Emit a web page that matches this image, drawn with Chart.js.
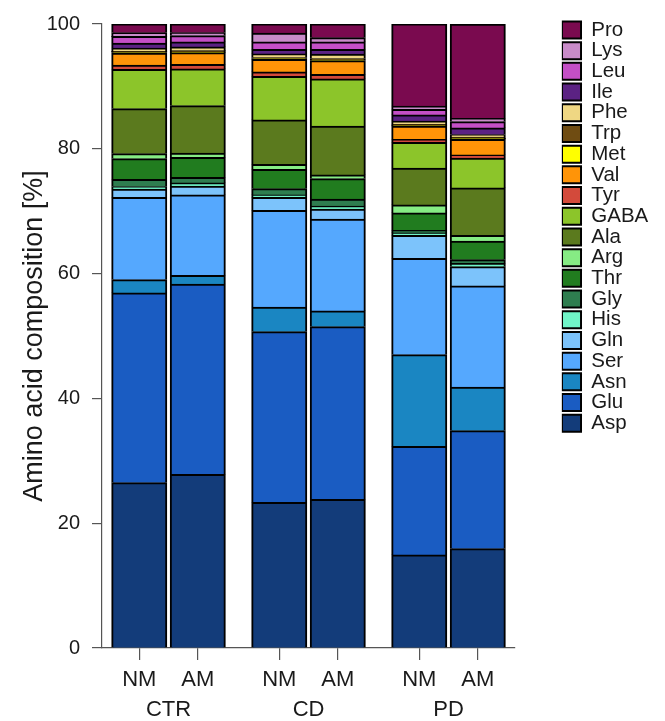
<!DOCTYPE html>
<html>
<head>
<meta charset="utf-8">
<title>Amino acid composition</title>
<script src="https://cdn.jsdelivr.net/npm/chart.js@4.4.1/dist/chart.umd.min.js"></script>
<style>
	html, body { margin: 0; padding: 0; background: #fff; }
	.chart-box { width: 665px; height: 721px; }
</style>
</head>
<body>
<div class="chart-box"><canvas id="amino-chart"></canvas></div>
<script>

/*****************************  Data  *********************************/
var barLabels   = ["NM", "AM", "NM", "AM", "NM", "AM"];
var groupLabels = ["CTR", "CD", "PD"];
var yTicks      = [0, 20, 40, 60, 80, 100];

// % of total, bars: CTR NM, CTR AM, CD NM, CD AM, PD NM, PD AM
var asp  = [26.5, 27.8, 23.3, 23.8, 14.9, 15.9];
var glu  = [30.4, 30.5, 27.4, 27.7, 17.4, 18.9];
var asn  = [2.1, 1.4, 3.9, 2.5, 14.7, 7.0];
var ser  = [13.2, 12.9, 15.5, 14.7, 15.4, 16.2];
var gln  = [1.3, 1.4, 2.1, 1.6, 3.7, 3.1];
var his  = [0.4, 0.5, 0.4, 0.5, 0.4, 0.5];
var gly  = [1.2, 0.9, 1.0, 1.1, 0.4, 0.6];
var thr  = [3.3, 3.2, 3.1, 3.3, 2.8, 3.0];
var arg  = [0.8, 0.7, 0.8, 0.6, 1.3, 0.9];
var ala  = [7.2, 7.6, 7.1, 7.8, 5.9, 7.6];
var gaba = [6.3, 5.9, 7.0, 7.6, 4.1, 4.8];
var tyr  = [0.7, 0.7, 0.7, 0.7, 0.5, 0.5];
var val  = [1.9, 1.9, 2.0, 2.2, 2.1, 2.5];
var met  = [0.1, 0.1, 0.15, 0.15, 0.1, 0.15];
var trp  = [0.2, 0.2, 0.15, 0.2, 0.2, 0.2];
var phe  = [0.5, 0.6, 0.6, 0.7, 0.5, 0.4];
var ile  = [0.8, 0.8, 0.7, 0.75, 1.0, 1.1];
var leu  = [1.1, 1.0, 1.2, 1.2, 0.9, 1.0];
var lys  = [0.6, 0.5, 1.4, 0.7, 0.5, 0.5];
var pro  = [1.4, 1.4, 1.5, 2.2, 13.2, 15.1];

// stacked bottom -> top
var aminoAcids = ["Asp", "Glu", "Asn", "Ser", "Gln", "His", "Gly", "Thr", "Arg", "Ala",
                  "GABA", "Tyr", "Val", "Met", "Trp", "Phe", "Ile", "Leu", "Lys", "Pro"];
var series = [asp, glu, asn, ser, gln, his, gly, thr, arg, ala,
              gaba, tyr, val, met, trp, phe, ile, leu, lys, pro];
var colors = ["#133c7a", "#1a5cc2", "#1a86c2", "#55a8fe", "#7cc3fb", "#70f5c8", "#2e7d4f", "#217c1f", "#86ec84", "#5b7a1e",
              "#8cc52a", "#d34a3b", "#ff9408", "#ffff00", "#6f4c12", "#efd783", "#5b2283", "#c44fc6", "#c98bc9", "#7a0a4f"];


/***************************  Bar positions  ******************************/
// two bars per group, a wider gap between groups
var groupStep = 2.393;
var xPos = barLabels.map(function(l, i) { return Math.floor(i / 2) * groupStep + i % 2; });
var groupPos = groupLabels.map(function(g, i) { return i * groupStep + 0.5; });
var xMin = -0.637;
var xMax = xPos[xPos.length - 1] + 0.637;


/******************************  Chart.js  *********************************/
Chart.defaults.font.family = "'Liberation Sans', Arial, sans-serif";
Chart.defaults.color = "#1a1a1a";

var datasets = series.map(function(values, k) {
	return {
		label: aminoAcids[k],
		data: values.map(function(v, i) { return { x: xPos[i], y: v }; }),
		backgroundColor: colors[k],
		borderColor: "#000",
		borderWidth: 2,
		inflateAmount: 0.5,
		barPercentage: 0.94,
		categoryPercentage: 1
	};
});

var axisGrey = "#555";

new Chart(document.getElementById("amino-chart"), {
	type: "bar",
	data: { datasets: datasets },
	options: {
		responsive: true,
		maintainAspectRatio: false,
		animation: false,
		events: [],
		layout: { padding: { top: 17, right: 6.75, bottom: 0, left: 0 } },
		plugins: {
			tooltip: { enabled: false },
			legend: {
				position: "right",
				align: "start",
				reverse: true,
				// empty title, only nudges the rows down a little
				title: { display: true, text: "", padding: 0, font: { size: 2.5, lineHeight: 1 } },
				labels: {
					boxWidth: 19,
					boxHeight: 17,
					padding: 0.2,
					color: "#1a1a1a",
					font: { size: 20.5 }
				}
			}
		},
		scales: {
			x: {
				type: "linear",
				position: "bottom",
				weight: 0,
				min: xMin,
				max: xMax,
				stacked: true,
				offset: false,
				afterBuildTicks: function(s) { s.ticks = xPos.map(function(v) { return { value: v }; }); },
				afterFit: function(s) { s.height = 44; },
				grid: { display: true, offset: false, drawOnChartArea: false, drawTicks: true, tickLength: 12, color: axisGrey, lineWidth: 1.2 },
				border: { display: true, color: axisGrey, width: 1.2 },
				ticks: {
					autoSkip: false,
					maxRotation: 0,
					padding: 7.4,
					font: { size: 22, lineHeight: 1.1 },
					callback: function(v, i) { return barLabels[i]; }
				}
			},
			x2: {
				type: "linear",
				position: "bottom",
				weight: 1,
				min: xMin,
				max: xMax,
				offset: false,
				afterBuildTicks: function(s) { s.ticks = groupPos.map(function(v) { return { value: v }; }); },
				afterFit: function(s) { s.height = 29; },
				grid: { display: false, drawTicks: false, offset: false },
				border: { display: false },
				ticks: {
					autoSkip: false,
					maxRotation: 0,
					padding: 5.4,
					font: { size: 22, lineHeight: 1.1 },
					callback: function(v, i) { return groupLabels[i]; }
				}
			},
			y: {
				stacked: true,
				min: 0,
				max: 100,
				afterBuildTicks: function(s) { s.ticks = yTicks.map(function(v) { return { value: v }; }); },
				afterFit: function(s) { s.width = 102; },
				grid: { display: true, drawOnChartArea: false, drawTicks: true, tickLength: 10, color: axisGrey, lineWidth: 1.2 },
				border: { display: true, color: axisGrey, width: 1.2 },
				ticks: { padding: 12, font: { size: 20 } },
				title: {
					display: true,
					text: "Amino acid composition [%]",
					font: { size: 27 },
					padding: { top: 18, bottom: 0 }
				}
			},
			// empty axis, only keeps the gap between the bars and the legend
			yR: {
				position: "right",
				display: true,
				afterFit: function(s) { s.width = 46.8; },
				grid: { display: false },
				border: { display: false },
				ticks: { display: false }
			}
		}
	}
});

</script>
</body>
</html>
